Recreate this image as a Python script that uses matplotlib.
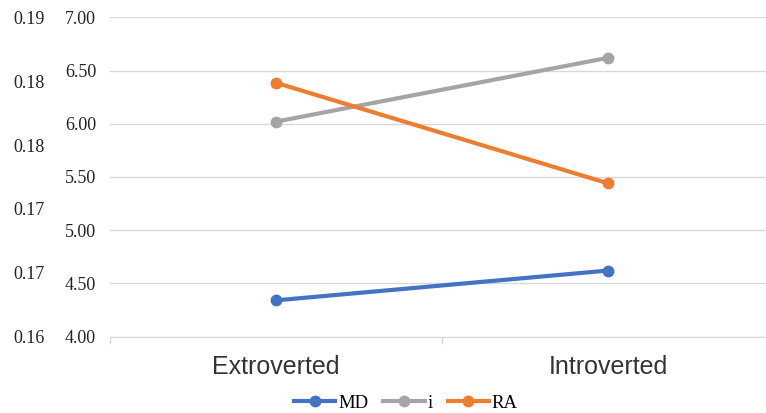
import numpy as np
import matplotlib
matplotlib.use('Agg')
import matplotlib.pyplot as plt

# data
categories = ['Extroverted', 'Introverted']
md_values = [0.1634, 0.1662]   # right-hand scale (0.16 - 0.19), drawn on the outer left axis
i_values = [6.02, 6.62]
ra_values = [6.385, 5.44]

main_ticks = [4.0, 4.5, 5.0, 5.5, 6.0, 6.5, 7.0]
md_ticks = [0.16, 0.166, 0.172, 0.178, 0.184, 0.19]

serif = ['Liberation Serif', 'DejaVu Serif']
sans = ['Liberation Sans', 'DejaVu Sans']

fig = plt.figure(figsize=(7.66, 4.13), dpi=100)
ax = fig.add_axes([110 / 766, 0.1852, 664 / 766, 0.7727])
ax2 = ax.twinx()

x = np.arange(len(categories))
grid_col = '#d9d9d9'

l_md, = ax2.plot(x, md_values, color='#4472C4', lw=3, marker='o', ms=7.5, label='MD', zorder=3)
l_i, = ax.plot(x, i_values, color='#A5A5A5', lw=3, marker='o', ms=7.5, label='i', zorder=3)
l_ra, = ax.plot(x, ra_values, color='#ED7D31', lw=3, marker='o', ms=7.5, label='RA', zorder=3)

ax.set_xlim(-0.5, 1.5)
ax.set_ylim(4.0, 7.0)
ax.set_yticks(main_ticks)
ax.set_yticklabels([f'{v:.2f}' for v in main_ticks], fontfamily=serif, fontsize=13)
ax.tick_params(axis='y', length=0, pad=10, colors='#222222')
ax.yaxis.grid(True, color=grid_col, lw=1)
ax.set_axisbelow(True)

ax.set_xticks(x)
ax.set_xticklabels(categories, fontfamily=sans, fontsize=18, color='#333333')
ax.tick_params(axis='x', which='major', length=0, pad=13)
ax.set_xticks([-0.5, 0.5, 1.5], minor=True)
ax.tick_params(axis='x', which='minor', length=5, color=grid_col, width=1)

for s in ['top', 'right', 'left']:
    ax.spines[s].set_visible(False)
ax.spines['bottom'].set_color(grid_col)

# secondary scale put on the far left like the original
ax2.set_ylim(0.16, 0.19)
ax2.set_yticks(md_ticks)
ax2.set_yticklabels([f'{v:.2f}' for v in md_ticks], fontfamily=serif, fontsize=13)
ax2.yaxis.tick_left()
ax2.tick_params(axis='y', length=0, pad=47, colors='#222222')
for s in ax2.spines.values():
    s.set_visible(False)

fig.legend(handles=[l_md, l_i, l_ra], loc='lower center', bbox_to_anchor=(0.53, -0.038),
           ncol=3, frameon=False, handlelength=2.2, columnspacing=0.8, handletextpad=0.15,
           prop={'family': serif, 'size': 13.5})

fig.savefig('out.png', dpi=100)
